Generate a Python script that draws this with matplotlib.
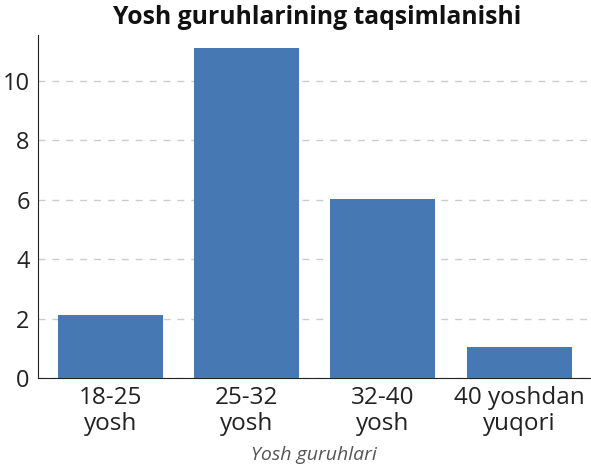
import matplotlib
matplotlib.use("Agg")
import matplotlib.pyplot as plt

# Age group distribution
categories = ["18-25\nyosh", "25-32\nyosh", "32-40\nyosh", "40 yoshdan\nyuqori"]
counts = [2.12, 11.1, 6.02, 1.05]
yticks = [0, 2, 4, 6, 8, 10]

plt.rcParams['font.family'] = ['Open Sans', 'DejaVu Sans']

fig = plt.figure(figsize=(5.91, 4.66), dpi=100)
ax = fig.add_axes([38 / 591, (466 - 378) / 466, (590 - 38) / 591, (378 - 35) / 466])

x = list(range(len(categories)))
ax.bar(x, counts, width=0.77, color="#4679b4", zorder=3)

ax.set_xlim(-0.53, 3.52)
ax.set_ylim(0, 11.55)
ax.set_yticks(yticks)
ax.set_xticks(x)
ax.set_xticklabels(categories, fontsize=17.5, color="#222222", linespacing=1.12)
ax.tick_params(axis="y", labelsize=17, labelcolor="#222222", length=0, pad=6)
ax.tick_params(axis="x", length=0, pad=6)

ax.grid(axis="y", linestyle=(0, (5, 5)), color="#cccccc", linewidth=1, zorder=0)
ax.spines["top"].set_visible(False)
ax.spines["right"].set_visible(False)
ax.spines["left"].set_color("#222222")
ax.spines["bottom"].set_color("#222222")

ax.set_xlabel("Yosh guruhlari", fontsize=14, style="italic", color="#555555", labelpad=7)
fig.text(0.536, 0.962, "Yosh guruhlarining taqsimlanishi", fontsize=17.8, fontweight="bold",
         color="#111111", ha="center", va="center")

fig.savefig("out.png", dpi=100)
